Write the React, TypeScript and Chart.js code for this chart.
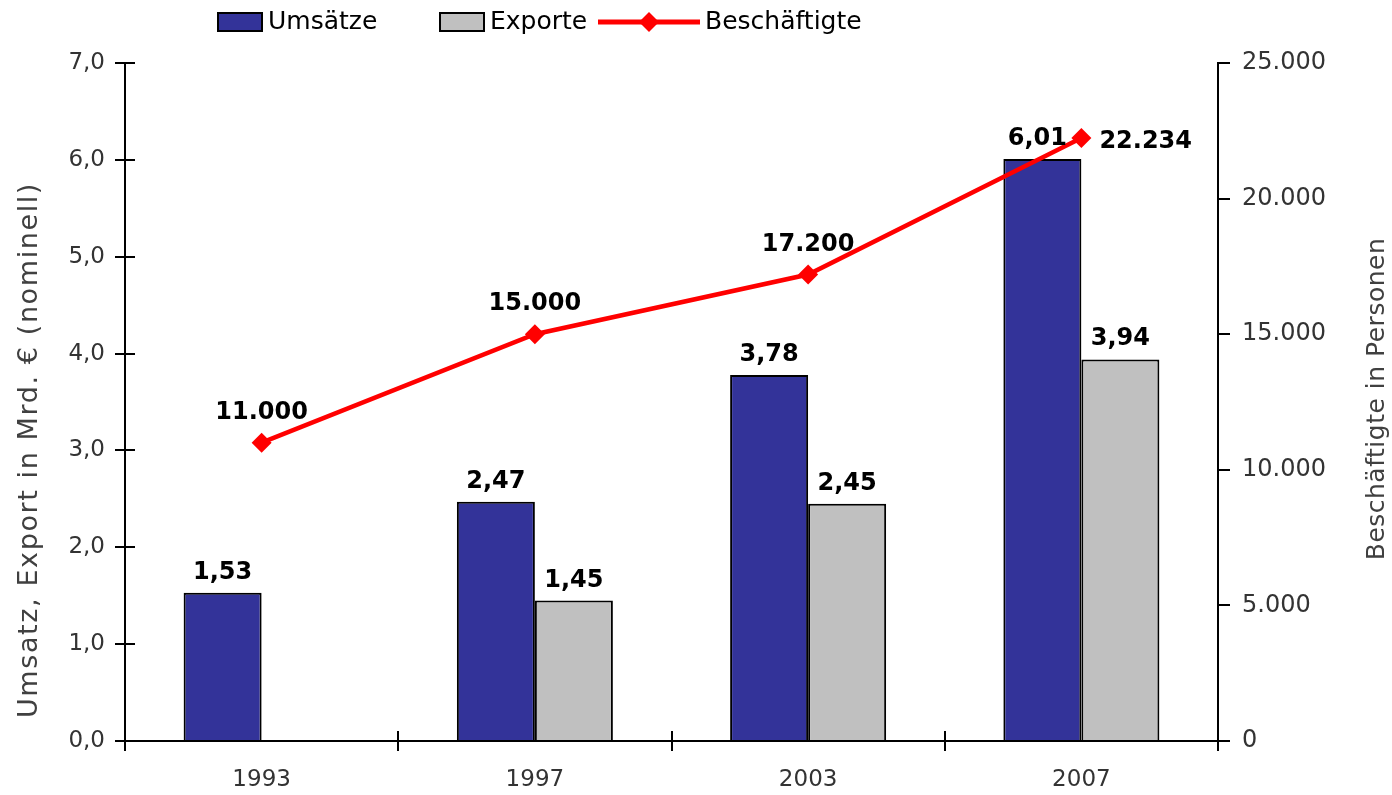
import React, { useEffect, useRef } from "react";
import { Chart, registerables } from "chart.js";

Chart.register(...registerables);

const years = ["1993", "1997", "2003", "2007"];
const umsaetze = [1.53, 2.47, 3.78, 6.01];
const exporte: (number | null)[] = [null, 1.45, 2.45, 3.94];
const beschaeftigte = [11000, 15000, 17200, 22234];

const leftTitle = "Umsatz, Export in Mrd. € (nominell)";
const rightTitle = "Beschäftigte in Personen";

const FONT = "'DejaVu Sans', sans-serif";
const NAVY = "#333399";
const GREY = "#C0C0C0";
const RED = "#FF0000";

const fmtComma = (v: number, d: number) => v.toFixed(d).replace(".", ",");
const fmtThousands = (v: number) => String(Math.round(v)).replace(/\B(?=(\d{3})+(?!\d))/g, ".");

const innerTicksPlugin = {
  id: "innerTicks",
  afterDraw(chart: any) {
    const ctx = chart.ctx;
    const ca = chart.chartArea;
    ctx.save();
    ctx.strokeStyle = "#000";
    ctx.lineWidth = 2;
    const y = chart.scales.y;
    y.ticks.forEach((t: any, i: number) => {
      const py = Math.round(y.getPixelForTick(i));
      ctx.beginPath();
      ctx.moveTo(ca.left, py);
      ctx.lineTo(ca.left + 10, py);
      ctx.stroke();
    });
    const x = chart.scales.x;
    const n = x.ticks.length;
    for (let i = 0; i <= n; i++) {
      const px = Math.round(ca.left + ((ca.right - ca.left) * i) / n);
      ctx.beginPath();
      ctx.moveTo(px, ca.bottom - 10);
      ctx.lineTo(px, ca.bottom);
      ctx.stroke();
    }
    ctx.restore();
  },
};

const titlesPlugin = {
  id: "axisTitles",
  afterDraw(chart: any) {
    const ctx = chart.ctx;
    const ca = chart.chartArea;
    const mid = (ca.top + ca.bottom) / 2;
    ctx.save();
    ctx.fillStyle = "#404040";
    ctx.textAlign = "center";
    ctx.textBaseline = "middle";
    ctx.font = `27px ${FONT}`;
    (ctx as any).letterSpacing = "1.6px";
    ctx.save();
    ctx.translate(30, mid + 48);
    ctx.rotate(-Math.PI / 2);
    ctx.fillText(leftTitle, 0, 0);
    ctx.restore();
    ctx.font = `25px ${FONT}`;
    (ctx as any).letterSpacing = "0.5px";
    ctx.save();
    ctx.translate(chart.width - 15, mid - 3);
    ctx.rotate(-Math.PI / 2);
    ctx.fillText(rightTitle, 0, 0);
    ctx.restore();
    (ctx as any).letterSpacing = "0px";
    ctx.restore();
  },
};

const labelsPlugin = {
  id: "valueLabels",
  afterDatasetsDraw(chart: any) {
    const ctx = chart.ctx;
    ctx.save();
    ctx.fillStyle = "#000";
    ctx.font = `bold 24px ${FONT}`;
    chart.data.datasets.forEach((ds: any, di: number) => {
      const meta = chart.getDatasetMeta(di);
      meta.data.forEach((el: any, i: number) => {
        const v = ds.data[i];
        if (v == null) return;
        if (ds.type === "line") {
          const txt = fmtThousands(v);
          if (i === ds.data.length - 1) {
            ctx.textAlign = "left";
            ctx.textBaseline = "middle";
            ctx.fillText(txt, el.x + 18, el.y + 4);
          } else {
            ctx.textAlign = "center";
            ctx.textBaseline = "alphabetic";
            ctx.fillText(txt, el.x, el.y - 24);
          }
        } else {
          ctx.textAlign = "center";
          ctx.textBaseline = "alphabetic";
          const shift = di === 0 && i === ds.data.length - 1 ? -5 : 0;
          ctx.fillText(fmtComma(v, 2), el.x + shift, el.y - 14);
        }
      });
    });
    ctx.restore();
  },
};

const legendOffsets = [93, 315, 473];

const legendPlugin = {
  id: "customLegend",
  afterDraw(chart: any) {
    const ctx = chart.ctx;
    ctx.save();
    ctx.font = `25px ${FONT}`;
    ctx.textBaseline = "middle";
    ctx.textAlign = "left";
    const cy = 22;
    chart.data.datasets.forEach((d: any, i: number) => {
      let x = chart.chartArea.left + legendOffsets[i];
      if (d.type === "line") {
        ctx.strokeStyle = d.borderColor;
        ctx.lineWidth = 5;
        ctx.beginPath();
        ctx.moveTo(x, cy);
        ctx.lineTo(x + 102, cy);
        ctx.stroke();
        ctx.fillStyle = d.borderColor;
        ctx.beginPath();
        ctx.moveTo(x + 51, cy - 10);
        ctx.lineTo(x + 61, cy);
        ctx.lineTo(x + 51, cy + 10);
        ctx.lineTo(x + 41, cy);
        ctx.closePath();
        ctx.fill();
        x += 107;
      } else {
        ctx.fillStyle = d.backgroundColor;
        ctx.fillRect(x, cy - 9, 44, 18);
        ctx.strokeStyle = "#000";
        ctx.lineWidth = 2;
        ctx.strokeRect(x, cy - 9, 44, 18);
        x += 50;
      }
      ctx.fillStyle = "#000";
      ctx.fillText(d.label, x, cy);
    });
    ctx.restore();
  },
};

export default function App() {
  const ref = useRef<HTMLCanvasElement | null>(null);
  useEffect(() => {
    if (!ref.current) return;
    const chart = new Chart(ref.current, {
      type: "bar",
      data: {
        labels: years,
        datasets: [
          {
            type: "bar",
            label: "Umsätze",
            data: umsaetze,
            yAxisID: "y",
            backgroundColor: NAVY,
            borderColor: "#000",
            borderWidth: 2,
            order: 1,
          },
          {
            type: "bar",
            label: "Exporte",
            data: exporte,
            yAxisID: "y",
            backgroundColor: GREY,
            borderColor: "#000",
            borderWidth: 2,
            order: 1,
          },
          {
            type: "line",
            label: "Beschäftigte",
            data: beschaeftigte,
            yAxisID: "y1",
            borderColor: RED,
            backgroundColor: RED,
            borderWidth: 4.5,
            pointStyle: "rectRot",
            pointRadius: 10,
            pointBorderWidth: 0,
            pointBackgroundColor: RED,
            tension: 0,
            order: 0,
          } as any,
        ],
      },
      options: {
        responsive: true,
        maintainAspectRatio: false,
        animation: false,
        datasets: { bar: { categoryPercentage: 0.571, barPercentage: 1.0 } },
        layout: { padding: { top: 63, left: 0, right: 0, bottom: 0 } },
        plugins: { legend: { display: false }, tooltip: { enabled: false } },
        scales: {
          x: {
            grid: { display: true, drawOnChartArea: false, drawTicks: true, tickLength: 10, color: "#000", lineWidth: 2, offset: true },
            border: { display: true, color: "#000", width: 2 },
            ticks: { color: "#333", font: { family: FONT, size: 23 }, padding: 15 },
            afterFit: (s: any) => { s.height = 54; },
          },
          y: {
            position: "left",
            min: 0,
            max: 7,
            grid: { display: true, drawOnChartArea: false, drawTicks: true, tickLength: 10, color: "#000", lineWidth: 2 },
            border: { display: true, color: "#000", width: 2 },
            ticks: { stepSize: 1, color: "#333", font: { family: FONT, size: 23 }, padding: 10, callback: (v: any) => fmtComma(Number(v), 1) },
            afterFit: (s: any) => { s.width = 125; },
          },
          y1: {
            position: "right",
            min: 0,
            max: 25000,
            grid: { display: true, drawOnChartArea: false, drawTicks: true, tickLength: 12, color: "#000", lineWidth: 2 },
            border: { display: true, color: "#000", width: 2 },
            ticks: { stepSize: 5000, color: "#333", font: { family: FONT, size: 24 }, padding: 12, callback: (v: any) => fmtThousands(Number(v)) },
            afterFit: (s: any) => { s.width = 174; },
          },
        },
      },
      plugins: [innerTicksPlugin, labelsPlugin, titlesPlugin, legendPlugin],
    });
    return () => chart.destroy();
  }, []);
  return (
    <div style={{ position: "fixed", left: 0, top: 0, width: 1392, height: 795, background: "#fff" }}>
      <canvas ref={ref} />
    </div>
  );
}
